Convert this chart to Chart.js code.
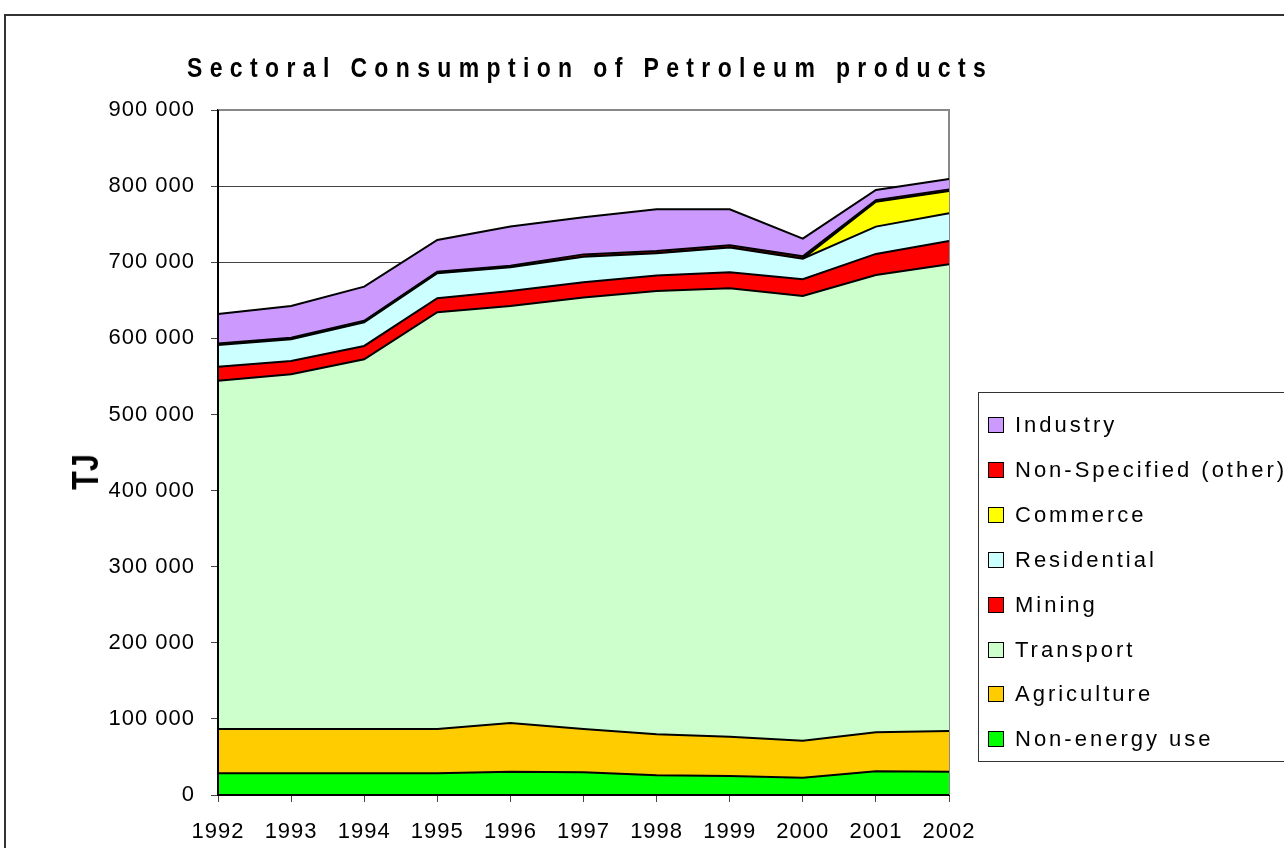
<!DOCTYPE html>
<html>
<head>
<meta charset="utf-8">
<script src="https://cdn.jsdelivr.net/npm/chart.js@4"></script>
<style>
    html, body { margin: 0; padding: 0; background: #fff; }
    #wrap { position: relative; width: 1284px; height: 848px; overflow: hidden; background: #fff; }
    #frame { position: absolute; left: 4px; top: 14px; width: 1400px; height: 1000px; border-top: 2px solid #333; border-left: 2px solid #333; }
    #chart-petroleum { position: absolute; left: 0; top: 0; }
    #title { position: absolute; left: 187px; top: 52px; font: bold 28px "Liberation Sans", Arial, sans-serif; letter-spacing: 9px; white-space: nowrap; color: #000; transform: scaleX(0.82); transform-origin: left center; }
    #ytitle { position: absolute; left: 86px; top: 472px; transform: translate(-50%, -50%) rotate(-90deg) scaleX(0.85); font: bold 36px "Liberation Sans", Arial, sans-serif; color: #000; }
    #legend { position: absolute; left: 978px; top: 392px; width: 330px; height: 370px; border: 1px solid #333; box-sizing: border-box; }
    .item { position: absolute; left: 9px; height: 30px; display: flex; align-items: center; white-space: nowrap; font: 22px "Liberation Sans", Arial, sans-serif; letter-spacing: 3px; color: #000; }
    .box { width: 14px; height: 14px; border: 1.5px solid #000; margin-right: 11px; }
</style>
</head>
<body>
<div id="wrap">
    <div id="frame"></div>
    <canvas id="chart-petroleum" width="1284" height="848"></canvas>
    <div id="title">Sectoral Consumption of Petroleum products</div>
    <div id="ytitle">TJ</div>
    <div id="legend"></div>
</div>
<script>
// data (TJ)
const years = ["1992", "1993", "1994", "1995", "1996", "1997", "1998", "1999", "2000", "2001", "2002"];
const nonEnergy    = [28500, 28500, 28500, 28500, 30600, 29800, 25900, 25000, 22700, 31100, 30600];
const agriculture  = [58200, 58200, 58200, 58200, 64000, 56900, 53900, 51600, 48700, 51300, 53500];
const transport    = [457700, 466100, 485800, 547600, 547900, 566800, 582500, 589200, 584300, 600900, 613200];
const mining       = [18400, 17500, 17500, 18400, 19800, 20200, 20100, 21000, 21900, 27600, 30600];
const residential  = [28500, 28500, 31100, 32800, 31100, 33600, 29400, 32400, 27100, 35900, 36400];
const commerce     = [0, 0, 0, 0, 0, 0, 0, 0, 0, 32800, 29400];
const nonSpecified = [2000, 2000, 2000, 2000, 2000, 3000, 3000, 3000, 3000, 2000, 2000];
const industry     = [38700, 41700, 44800, 41800, 51400, 48800, 54800, 47400, 23300, 13400, 13700];

const yTicks = [0, 100000, 200000, 300000, 400000, 500000, 600000, 700000, 800000, 900000];

const fontFamily = '"Liberation Sans", Arial, sans-serif';

// thousands with a space: 900 000
const fmt = (v) => String(v).replace(/\B(?=(\d{3})+(?!\d))/g, ' ');

function layer(label, data, color, fill) {
    return {
        label: label,
        data: data,
        backgroundColor: color,
        borderColor: "#000",
        borderWidth: 2,
        pointRadius: 0,
        tension: 0,
        fill: fill,
    };
}

const dataChart = {
    labels: years,
    datasets: [
        layer("Non-energy use", nonEnergy, "#00FF00", "origin"),
        layer("Agriculture", agriculture, "#FFCC00", "-1"),
        layer("Transport", transport, "#CCFFCC", "-1"),
        layer("Mining", mining, "#FF0000", "-1"),
        layer("Residential", residential, "#CCFFFF", "-1"),
        layer("Commerce", commerce, "#FFFF00", "-1"),
        layer("Non-Specified (other)", nonSpecified, "#FF0000", "-1"),
        layer("Industry", industry, "#CC99FF", "-1"),
    ],
};

// spaced-out lettering like the original, grey plot frame, black axes on top of the fills
const plotStyle = {
    id: "plotStyle",
    beforeDraw(chart) {
        chart.ctx.letterSpacing = "1px";
    },
    beforeDatasetsDraw(chart) {
        const { ctx, chartArea } = chart;
        ctx.save();
        ctx.strokeStyle = "#888";
        ctx.lineWidth = 2;
        ctx.beginPath();
        ctx.moveTo(chartArea.left, chartArea.top);
        ctx.lineTo(chartArea.right, chartArea.top);
        ctx.lineTo(chartArea.right, chartArea.bottom);
        ctx.stroke();
        ctx.restore();
    },
    afterDatasetsDraw(chart) {
        const { ctx, chartArea } = chart;
        ctx.save();
        ctx.strokeStyle = "#000";
        ctx.lineWidth = 2;
        ctx.beginPath();
        ctx.moveTo(chartArea.left, chartArea.top);
        ctx.lineTo(chartArea.left, chartArea.bottom);
        ctx.lineTo(chartArea.right, chartArea.bottom);
        ctx.stroke();
        ctx.restore();
    },
};

const config = {
    type: "line",
    data: dataChart,
    options: {
        responsive: false,
        animation: false,
        layout: { padding: { top: 110, right: 335, bottom: 0, left: 0 } },
        plugins: {
            legend: { display: false },
            title: { display: false },
            tooltip: { enabled: false },
        },
        scales: {
            x: {
                grid: { drawOnChartArea: false, tickLength: 7, color: "#444" },
                border: { color: "#000", width: 2 },
                ticks: { color: "#000", padding: 17, maxRotation: 0, font: { family: fontFamily, size: 22 } },
                afterFit: (s) => { s.height = 53; },
            },
            y: {
                stacked: true,
                min: 0,
                max: 900000,
                afterBuildTicks: (s) => { s.ticks = yTicks.map(v => ({ value: v })); },
                grid: { color: "#444", tickLength: 7 },
                border: { color: "#000", width: 2 },
                ticks: { color: "#000", padding: 16, font: { family: fontFamily, size: 22 }, callback: (v) => fmt(v) },
                afterFit: (s) => { s.width = 218; },
            },
        },
    },
    plugins: [plotStyle],
};

const chart = new Chart(document.getElementById("chart-petroleum"), config);

// legend box, top to bottom = stack order reversed
const legend = document.getElementById("legend");
chart.data.datasets.slice().reverse().forEach((ds, i) => {
    const item = document.createElement("div");
    item.className = "item";
    item.style.top = (17 + i * 44.9) + "px";
    const box = document.createElement("span");
    box.className = "box";
    box.style.background = ds.backgroundColor;
    item.appendChild(box);
    item.appendChild(document.createTextNode(ds.label));
    legend.appendChild(item);
});
</script>
</body>
</html>
